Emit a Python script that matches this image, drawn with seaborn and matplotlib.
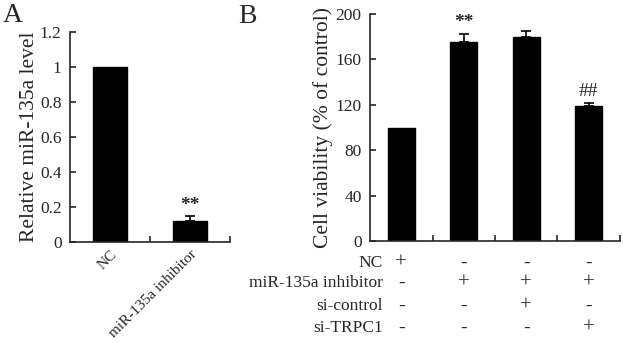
import matplotlib
matplotlib.use("Agg")
import matplotlib.pyplot as plt
import matplotlib.transforms as mtransforms
import seaborn as sns
import pandas as pd

# Panel A: relative miR-135a level
a_groups = ["NC", "miR-135a inhibitor"]
a_values = [1.0, 0.122]
a_errors = [0.0, 0.027]
a_marks = ["", "**"]

# Panel B: cell viability
b_groups = ["G1", "G2", "G3", "G4"]
b_values = [100.0, 175.5, 179.5, 119.0]
b_errors = [0.0, 7.0, 5.5, 2.5]
b_marks = ["", "**", "", "##"]

# Treatment table under panel B
row_labels = ["NC", "miR-135a inhibitor", "si-control", "si-TRPC1"]
row_signs = [
    ["+", "-", "-", "-"],
    ["-", "+", "+", "+"],
    ["-", "-", "+", "-"],
    ["-", "-", "-", "+"],
]

sns.set_style("ticks")
plt.rcParams["font.family"] = ["Liberation Serif", "DejaVu Serif"]
plt.rcParams["axes.linewidth"] = 1.2

fig = plt.figure(figsize=(6.23, 3.43), dpi=100)
axA = fig.add_axes([0.1124, 0.2945, 0.2568, 0.6122])
axB = fig.add_axes([0.594, 0.297, 0.401, 0.662])

df_a = pd.DataFrame({"group": a_groups, "value": a_values})
df_b = pd.DataFrame({"group": b_groups, "value": b_values})

sns.barplot(data=df_a, x="group", y="value", ax=axA, color="black",
            edgecolor="black", width=0.43, saturation=1, errorbar=None)
sns.barplot(data=df_b, x="group", y="value", ax=axB, color="black",
            edgecolor="black", width=0.43, saturation=1, errorbar=None)


def upper_errors(ax, values, errors, marks, mark_gap, fs):
    for i, (v, e, m) in enumerate(zip(values, errors, marks)):
        if e > 0:
            ax.errorbar(i, v, yerr=[[0], [e]], fmt="none", ecolor="black",
                        elinewidth=1.2, capsize=3.5, capthick=1.2)
        if m:
            ax.text(i, v + e + mark_gap, m, ha="center", va="bottom",
                    fontsize=fs, fontweight="bold" if m == "**" else "normal")


upper_errors(axA, a_values, a_errors, a_marks, 0.01, 14)
upper_errors(axB, b_values, b_errors, b_marks, 3, 14)

for ax in (axA, axB):
    sns.despine(ax=ax)
    ax.set_xlabel("")
    ax.tick_params(axis="y", direction="in", length=4, width=1.2,
                   labelsize=12.5, pad=6)
    ax.tick_params(axis="x", which="major", length=0)
    ax.tick_params(axis="x", which="minor", direction="in", length=4,
                   width=1.2)

# Panel A axes
axA.set_xlim(-0.5, 1.5)
axA.set_ylim(0, 1.2)
axA.set_yticks([0, 0.2, 0.4, 0.6, 0.8, 1.0, 1.2])
axA.set_yticklabels(["0", "0.2", "0.4", "0.6", "0.8", "1", "1.2"])
axA.set_xticks([0.5, 1.5], minor=True)
axA.set_xticks([0, 1])
axA.set_xticklabels(a_groups, rotation=45, ha="right",
                    rotation_mode="anchor", fontsize=11)
axA.tick_params(axis="x", which="major", pad=4)
axA.set_ylabel("Relative miR-135a level", fontsize=15.5, labelpad=1)

# Panel B axes
axB.set_xlim(-0.5, 3.5)
axB.set_ylim(0, 200)
axB.set_yticks([0, 40, 80, 120, 160, 200])
axB.set_xticks([0.5, 1.5, 2.5, 3.5], minor=True)
axB.set_xticks([0, 1, 2, 3])
axB.set_xticklabels([])
axB.set_ylabel("Cell viability (% of control)", fontsize=15.5, labelpad=2)

# Treatment table
trans = mtransforms.blended_transform_factory(axB.transData, fig.transFigure)
row_y = [0.233, 0.174, 0.108, 0.044]
for label, signs, y in zip(row_labels, row_signs, row_y):
    axB.text(-0.29, y, label, transform=trans, ha="right", va="center",
             fontsize=12.5, clip_on=False)
    for i, s in enumerate(signs):
        axB.text(i, y, s, transform=trans, ha="center", va="center",
                 fontsize=15 if s == "+" else 14, clip_on=False)

fig.text(0.005, 0.955, "A", fontsize=20, ha="left", va="center")
fig.text(0.383, 0.952, "B", fontsize=20, ha="left", va="center")

fig.savefig("out.png", dpi=100)
